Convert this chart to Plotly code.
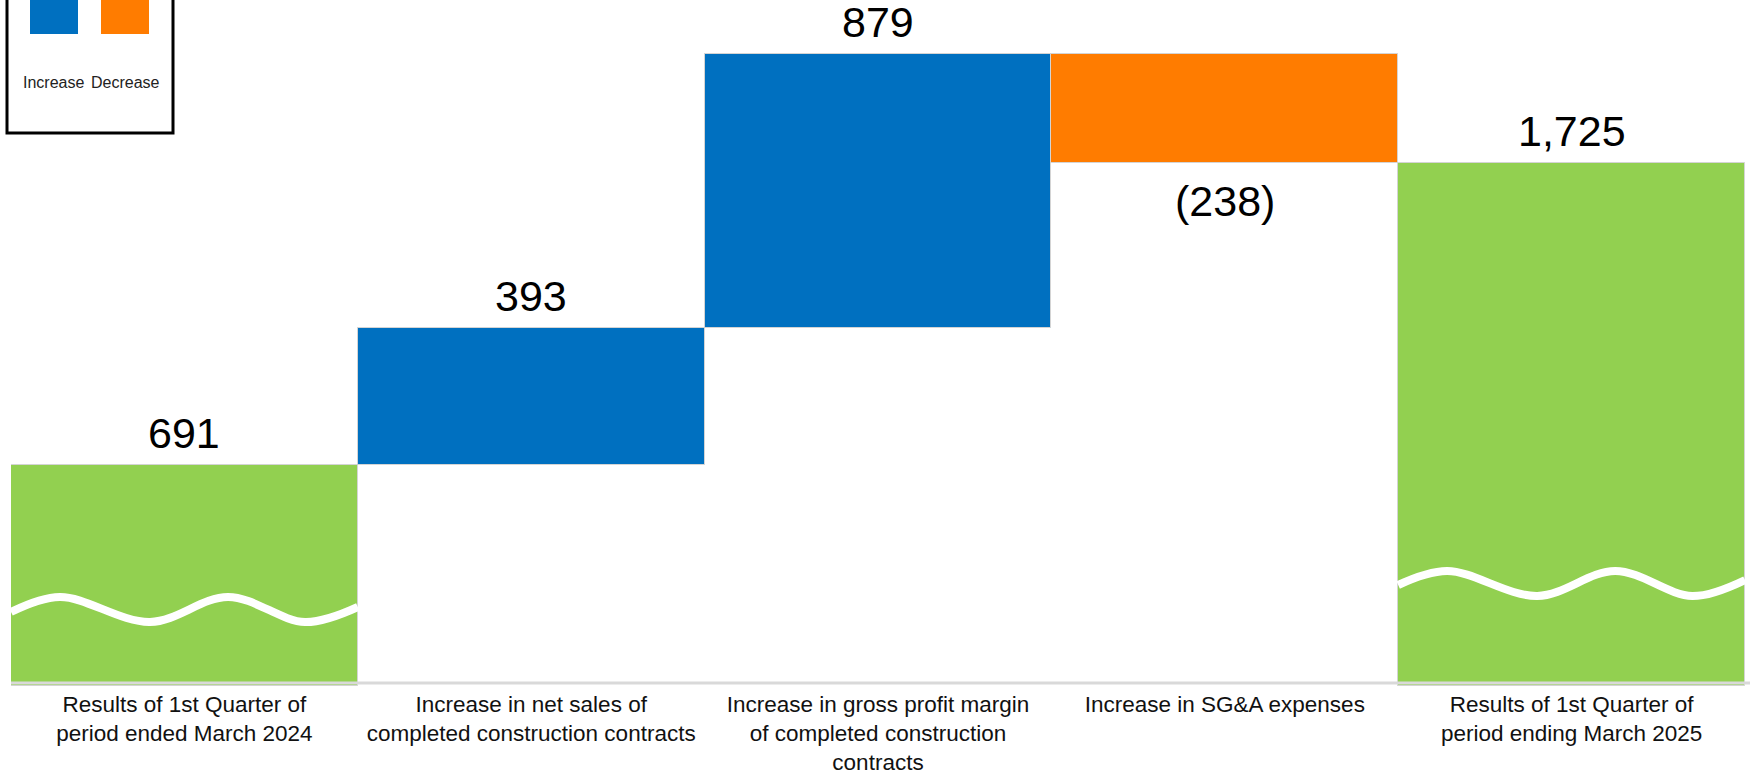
import plotly.graph_objects as go

# ---------------- data ----------------
categories = [
    "Results of 1st Quarter of<br>period ended March 2024",
    "Increase in net sales of<br>completed construction contracts",
    "Increase in gross profit margin<br>of completed construction<br>contracts",
    "Increase in SG&A expenses",
    "Results of 1st Quarter of<br>period ending March 2025",
]
values = [691, 393, 879, -238, 1725]
value_labels = ["691", "393", "879", "(238)", "1,725"]
kinds = ["total", "increase", "increase", "decrease", "total"]

# The original chart is drawn "not to scale" (broken axis, wave marks),
# so bar extents are kept in the chart's own schematic units.
drawn_base = [0, 221, 358, 632, 0]
drawn_top = [221, 358, 632, 523, 523]

# wave (axis-break) marks inside the two total bars: offsets from the bar centre / heights
wave_dx = [-0.5, -0.359, -0.099, 0.126, 0.348, 0.5]
wave1_y = [74, 89, 64, 89, 64, 79]
wave5_y = [101, 115, 90, 115, 90, 106]

legend_names = ["Increase", "Decrease"]

colors = {"total": "#92D050", "increase": "#0070C0", "decrease": "#FF7C00"}

# ---------------- figure ----------------
xs = list(range(len(categories)))
heights = [t - b for t, b in zip(drawn_top, drawn_base)]

fig = go.Figure()
fig.add_trace(go.Bar(
    x=xs, y=heights, base=drawn_base, width=1,
    marker=dict(color=[colors[k] for k in kinds], line=dict(color="#d4d4d4", width=1)),
    showlegend=False, hoverinfo="skip",
))

for idx, wy in ((0, wave1_y), (4, wave5_y)):
    fig.add_trace(go.Scatter(
        x=[idx + d for d in wave_dx], y=wy, mode="lines",
        line=dict(color="white", width=8, shape="spline", smoothing=1.0),
        showlegend=False, hoverinfo="skip",
    ))

FONT = "Arial, Liberation Sans, sans-serif"

# value labels
for i, (lab, k) in enumerate(zip(value_labels, kinds)):
    if k == "decrease":
        fig.add_annotation(x=i, y=drawn_top[i], text=lab, showarrow=False,
                           yanchor="top", yshift=-12,
                           font=dict(size=43, color="#000000", family=FONT))
    else:
        fig.add_annotation(x=i, y=drawn_top[i], text=lab, showarrow=False,
                           yanchor="bottom", yshift=6,
                           font=dict(size=43, color="#000000", family=FONT))

# baseline line
fig.add_shape(type="line", xref="paper", yref="y", x0=0, x1=1.01, y0=3, y1=3,
              line=dict(color="#d9d9d9", width=3), layer="above")

# custom legend box (top-left)
W, H, L = 1734.0, 686.0, 11.0
def px(xp):
    return (xp - L) / W
def py(yp):
    return (H - yp) / H

fig.add_shape(type="rect", xref="paper", yref="paper",
              x0=px(7), x1=px(173), y0=py(133), y1=py(-10),
              line=dict(color="#000000", width=3), fillcolor="white", layer="above")
for name, (x0, x1), col, cx in zip(
        legend_names, [(30, 78), (101, 149)],
        [colors["increase"], colors["decrease"]], [53, 125.5]):
    fig.add_shape(type="rect", xref="paper", yref="paper",
                  x0=px(x0), x1=px(x1), y0=py(34), y1=py(-5),
                  line=dict(width=0), fillcolor=col, layer="above")
    fig.add_annotation(xref="paper", yref="paper", x=px(cx), y=py(82), text=name,
                       showarrow=False, xanchor="center", yanchor="middle",
                       font=dict(size=16, color="#222222", family=FONT))

fig.update_layout(
    width=1750, height=772,
    margin=dict(l=11, r=5, t=0, b=86),
    paper_bgcolor="white", plot_bgcolor="white",
    bargap=0,
    xaxis=dict(range=[-0.5, 4.5], tickvals=xs, ticktext=categories,
               showgrid=False, zeroline=False, showline=False, ticks="",
               tickfont=dict(size=22.5, color="#111111", family=FONT),
               ticklabelstandoff=2, automargin=False,
               fixedrange=True),
    yaxis=dict(range=[0, 686], visible=False, fixedrange=True),
)

fig.write_html(
    "out.html",
    config={"displayModeBar": False},
    post_script="document.body.style.margin='0';document.body.style.overflow='hidden';",
)
